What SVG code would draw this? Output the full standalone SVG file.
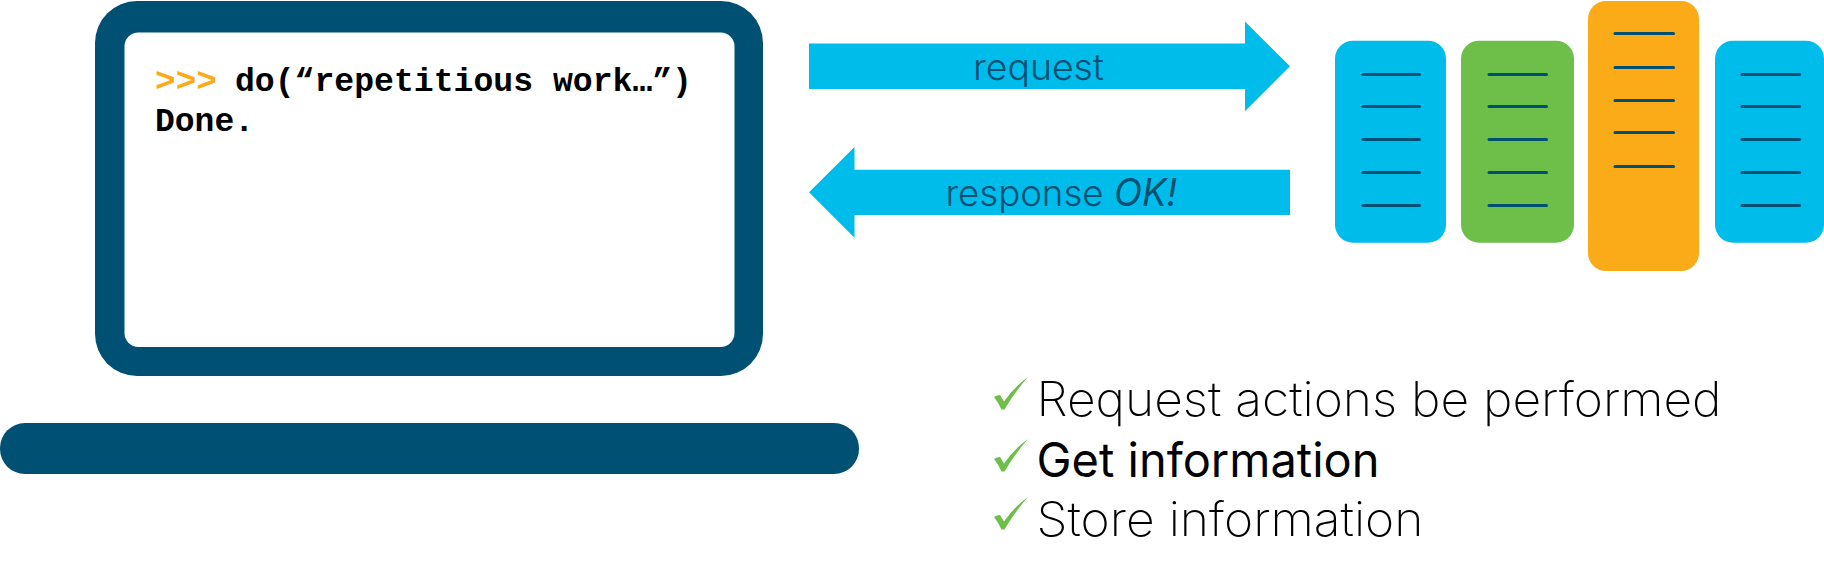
<svg xmlns="http://www.w3.org/2000/svg" width="1824" height="577" viewBox="0 0 1824 577">
<style>
.navy{fill:#005073}.cyan{fill:#00bceb}.green{fill:#6ebe4a}.orange{fill:#fbab18}
.code{font-family:"Liberation Mono",monospace;font-weight:700;font-size:33px;fill:#000}
.lab{font-family:Inter,"Liberation Sans",sans-serif;font-weight:300;font-size:36px;fill:#005073}
.ok{font-family:Inter,"Liberation Sans",sans-serif;font-weight:400;font-style:italic;font-size:38px;fill:#005073}
.item{font-family:Inter,"Liberation Sans",sans-serif;font-weight:200;font-size:48px;fill:#000}
.rack line{stroke:#005073;stroke-width:3;stroke-linecap:round}
</style>
<defs><path id="tick" d="M0,20 Q3,18 6,18 L10,24.500 Q20,10 34,0 Q20,16 10.500,32.500 L7.500,32.500 Q4,25 0,20Z"/></defs>
<rect width="1824" height="577" fill="#fff"/>
<g id="laptop">
<rect class="navy" x="95" y="1" width="668" height="375" rx="42"/>
<rect x="124.500" y="32.500" width="610" height="314.500" rx="14" fill="#fff"/>
<rect class="navy" x="0" y="423" width="859" height="51" rx="25"/>
<text class="code" x="155" y="91" style="fill:#fbab18" textLength="62" lengthAdjust="spacingAndGlyphs">&gt;&gt;&gt;</text>
<text class="code" x="235" y="91" textLength="457" lengthAdjust="spacingAndGlyphs">do(“repetitious work…”)</text>
<text class="code" x="155" y="131">Done.</text>
</g>
<g id="connectors">
<g id="request-arrow">
<polygon class="cyan" points="809,43.500 1245,43.500 1245,21.500 1290,66.300 1245,111.300 1245,89 809,89"/>
<text class="lab" x="973" y="79.500" textLength="131" lengthAdjust="spacingAndGlyphs">request</text>
</g>
<g id="response-arrow">
<polygon class="cyan" points="1290,169.700 854.500,169.700 854.500,147 809,192.300 854.500,237.700 854.500,215 1290,215"/>
<text class="lab" x="945.500" y="205.500" textLength="158" lengthAdjust="spacingAndGlyphs">response</text>
<text class="ok" x="1114" y="205.500" textLength="63" lengthAdjust="spacingAndGlyphs">OK!</text>
</g>
</g>
<g id="server-1" class="rack">
<rect class="cyan" x="1335" y="40.700" width="111" height="202" rx="18"/>
<line x1="1363" x2="1419.500" y1="74.500" y2="74.500"/><line x1="1363" x2="1419.500" y1="106.500" y2="106.500"/><line x1="1363" x2="1419.500" y1="139.500" y2="139.500"/><line x1="1363" x2="1419.500" y1="172.500" y2="172.500"/><line x1="1363" x2="1419.500" y1="205.500" y2="205.500"/>
</g>
<g id="server-2" class="rack">
<rect class="green" x="1461" y="40.700" width="113" height="202" rx="18"/>
<line x1="1489" x2="1546.500" y1="74.500" y2="74.500"/><line x1="1489" x2="1546.500" y1="106.500" y2="106.500"/><line x1="1489" x2="1546.500" y1="139.500" y2="139.500"/><line x1="1489" x2="1546.500" y1="172.500" y2="172.500"/><line x1="1489" x2="1546.500" y1="205.500" y2="205.500"/>
</g>
<g id="server-3" class="rack">
<rect class="orange" x="1588" y="1" width="111" height="270" rx="18"/>
<line x1="1615" x2="1673.500" y1="33.500" y2="33.500"/><line x1="1615" x2="1673.500" y1="67.500" y2="67.500"/><line x1="1615" x2="1673.500" y1="100.500" y2="100.500"/><line x1="1615" x2="1673.500" y1="132.500" y2="132.500"/><line x1="1615" x2="1673.500" y1="166.500" y2="166.500"/>
</g>
<g id="server-4" class="rack">
<rect class="cyan" x="1715" y="40.700" width="109" height="202" rx="18"/>
<line x1="1742" x2="1799.500" y1="74.500" y2="74.500"/><line x1="1742" x2="1799.500" y1="106.500" y2="106.500"/><line x1="1742" x2="1799.500" y1="139.500" y2="139.500"/><line x1="1742" x2="1799.500" y1="172.500" y2="172.500"/><line x1="1742" x2="1799.500" y1="205.500" y2="205.500"/>
</g>
<g id="item-1">
<use href="#tick" class="green" x="994" y="377"/>
<text class="item" x="1036.500" y="416" textLength="685" lengthAdjust="spacingAndGlyphs">Request actions be performed</text>
</g>
<g id="item-2">
<use href="#tick" class="green" x="994" y="439"/>
<text class="item" x="1036.500" y="477" style="font-weight:400" textLength="343" lengthAdjust="spacingAndGlyphs">Get information</text>
</g>
<g id="item-3">
<use href="#tick" class="green" x="994" y="497"/>
<text class="item" x="1036.500" y="536" textLength="387" lengthAdjust="spacingAndGlyphs">Store information</text>
</g>
</svg>
